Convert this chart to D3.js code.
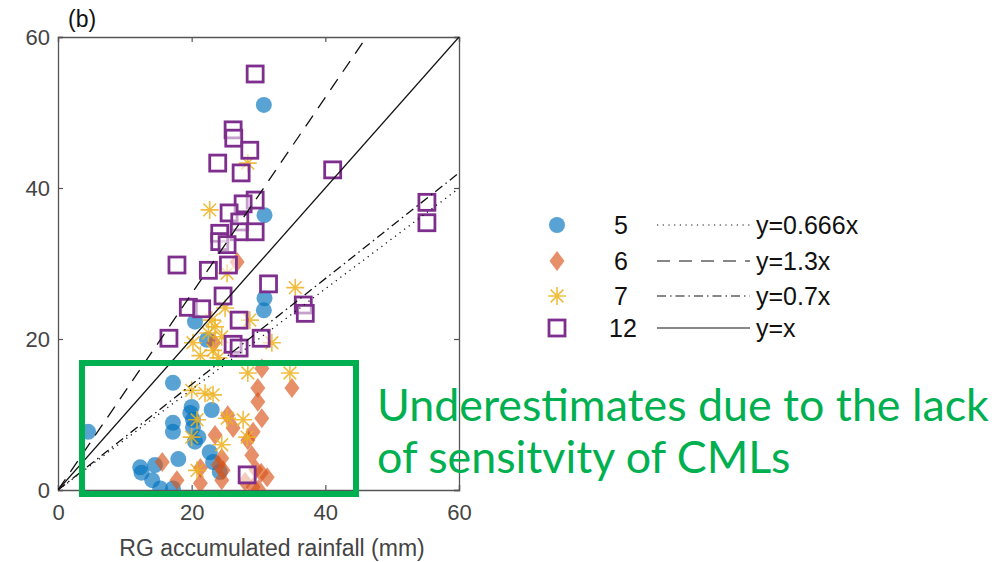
<!DOCTYPE html>
<html lang="en">
<head>
<meta charset="UTF-8">
<title>RG vs CML accumulated rainfall</title>
<script src="https://d3js.org/d3.v7.min.js"></script>
<style>
  body { margin: 0; background: #fff; font-family: "Liberation Sans", Arial, sans-serif; }
  svg { display: block; }
</style>
</head>
<body>
<div id="chart"></div>
<script>
// points: [RG rainfall, CML rainfall] in mm
const series5 = [[30.8,51.0],[30.9,36.4],[30.9,25.4],[30.8,23.8],[20.5,22.3],[22.3,19.9],[17.2,14.2],[4.5,7.7],
  [19.8,10.2],[20.0,11.0],[23.0,10.6],[17.2,8.9],[17.2,7.7],[20.2,8.3],[21.0,7.0],[20.5,6.4],[22.7,5.0],[23.2,3.7],
  [24.2,2.4],[12.3,3.0],[12.5,2.3],[14.5,3.3],[18.0,4.1],[14.1,1.3],[15.3,0.2],[17.2,0.2],[20.2,9.3]];
const series6 = [[26.8,30.2],[30.5,16.1],[35.0,13.5],[29.9,13.5],[29.9,11.7],[30.5,9.5],[25.4,9.9],[26.2,8.2],
  [29.2,7.7],[28.4,6.6],[23.5,7.3],[29.0,4.6],[24.5,4.2],[24.0,3.3],[24.7,2.6],[24.5,1.3],[21.3,2.9],[21.3,0.9],
  [17.8,1.3],[15.6,3.7],[31.3,1.7],[29.2,0.4],[28.0,1.1],[30.0,0.1],[23.3,19.5],[29.6,2.7],[30.4,2.3]];
const series7 = [[28.4,43.3],[22.7,37.1],[25.3,28.7],[35.5,26.8],[25.0,24.1],[28.7,22.5],[23.5,21.6],[20.2,19.5],
  [32.0,19.5],[22.5,20.8],[23.2,18.5],[24.5,20.3],[34.7,15.5],[20.0,13.2],[22.0,12.8],[23.2,12.6],[20.8,9.3],
  [25.3,9.5],[27.7,9.3],[20.0,7.0],[28.3,7.0],[24.5,6.0],[20.8,2.6],[28.4,15.5],[21.3,17.8],[24.0,17.5],[23.0,22.5]];
const series12 = [[29.5,55.1],[26.2,47.7],[26.3,46.6],[28.7,45.0],[23.9,43.3],[27.4,42.0],[41.1,42.4],[55.2,38.1],
  [55.2,35.4],[29.5,38.4],[27.7,37.9],[25.6,36.7],[27.2,35.5],[29.5,34.2],[27.1,34.2],[24.2,34.0],[24.2,32.9],
  [25.3,32.5],[17.8,29.8],[22.5,29.1],[25.5,29.8],[31.5,27.3],[24.7,25.7],[19.5,24.2],[21.5,24.0],[27.1,22.5],
  [16.6,20.1],[26.2,19.3],[27.1,18.8],[30.4,20.1],[36.7,24.5],[37.0,23.4],[28.3,2.0]];

const seriesNames = ["5", "6", "7", "12"];
const slopes = [0.666, 1.3, 0.7, 1];
const slopeLabels = ["y=0.666x", "y=1.3x", "y=0.7x", "y=x"];
const ticks = [0, 20, 40, 60];

const width = 1007, height = 562;
const x0 = 58, x1 = 459, yTop = 37, yBot = 490;

const svg = d3.select("#chart").append("svg")
    .attr("width", width).attr("height", height);
svg.append("rect").attr("width", width).attr("height", height).attr("fill", "#fff");

const x = d3.scaleLinear().domain([0, 60]).range([x0, x1]);
const y = d3.scaleLinear().domain([0, 60]).range([yBot, yTop]);

svg.append("defs").append("clipPath").attr("id", "plotclip")
  .append("rect").attr("x", x0).attr("y", yTop).attr("width", x1 - x0).attr("height", yBot - yTop);

// axes
const axisColor = "#555";
const gx = svg.append("g").attr("transform", `translate(0,${yBot})`)
    .call(d3.axisBottom(x).tickValues(ticks).tickSize(-5).tickPadding(14));
const gy = svg.append("g").attr("transform", `translate(${x0},0)`)
    .call(d3.axisLeft(y).tickValues(ticks).tickSize(-5).tickPadding(8));
const gxt = svg.append("g").attr("transform", `translate(0,${yTop})`)
    .call(d3.axisTop(x).tickValues(ticks).tickSize(-5).tickFormat(""));
const gyr = svg.append("g").attr("transform", `translate(${x1},0)`)
    .call(d3.axisRight(y).tickValues(ticks).tickSize(-5).tickFormat(""));
[gx, gy, gxt, gyr].forEach(g => {
  g.attr("font-size", 22).attr("font-family", "Liberation Sans, Arial, sans-serif");
  g.select(".domain").attr("stroke", axisColor).attr("stroke-width", 1.3);
  g.selectAll(".tick line").attr("stroke", axisColor).attr("stroke-width", 1.2);
  g.selectAll("text").attr("fill", "#444");
});
gy.selectAll("text").attr("dy", "0.36em");

svg.append("text").attr("x", 272).attr("y", 556).attr("text-anchor", "middle")
  .attr("fill", "#444").style("font-size", "23px").text("RG accumulated rainfall (mm)");
svg.append("text").attr("x", 68).attr("y", 27).attr("fill", "#111")
  .style("font-size", "23px").text("(b)");

// markers
const plot = svg.append("g").attr("clip-path", "url(#plotclip)");
const blue = "#0072BD", orange = "#D95319", yellow = "#EDB120", purple = "#7E2F8E";

function starPath(s) {
  const d = s * 0.707;
  return `M${-s},0L${s},0M0,${-s}L0,${s}M${-d},${-d}L${d},${d}M${-d},${d}L${d},${-d}`;
}
function drawCircle(g, cx, cy) {
  g.append("circle").attr("cx", cx).attr("cy", cy).attr("r", 8)
    .attr("fill", blue).attr("fill-opacity", 0.65);
}
function drawDiamond(g, cx, cy) {
  g.append("path").attr("transform", `translate(${cx},${cy})`)
    .attr("d", "M0,-10L7.5,0L0,10L-7.5,0Z").attr("fill", orange).attr("fill-opacity", 0.65);
}
function drawStar(g, cx, cy) {
  g.append("path").attr("transform", `translate(${cx},${cy})`)
    .attr("d", starPath(9)).attr("stroke", yellow).attr("stroke-width", 1.6)
    .attr("stroke-opacity", 0.85).attr("fill", "none");
}
function drawSquare(g, cx, cy) {
  g.append("rect").attr("x", cx - 8).attr("y", cy - 8).attr("width", 16).attr("height", 16)
    .attr("fill", "#fff").attr("fill-opacity", 0.55)
    .attr("stroke", purple).attr("stroke-width", 2.8);
}
const drawers = [drawCircle, drawDiamond, drawStar, drawSquare];
[series5, series6, series7, series12].forEach((s, i) => {
  s.forEach(d => drawers[i](plot, x(d[0]), y(d[1])));
});

// reference lines
const dashes = ["1.2,4.5", "13,9", "9,4,1.5,4", null];
slopes.forEach((k, i) => {
  const xe = Math.min(60, 60 / k);
  plot.append("line")
    .attr("x1", x(0)).attr("y1", y(0)).attr("x2", x(xe)).attr("y2", y(k * xe))
    .attr("stroke", "#111").attr("stroke-width", 1.3)
    .attr("stroke-dasharray", dashes[i]);
});

// legend
const legRows = [225, 261, 296, 328];
const leg = svg.append("g").style("font-size", "25px");
legRows.forEach((ry, i) => {
  drawers[i](leg, 557, ry);
  leg.append("text").attr("x", seriesNames[i].length > 1 ? 609 : 614).attr("y", ry).attr("dy", "0.36em")
    .attr("fill", "#111").text(seriesNames[i]);
  leg.append("line").attr("x1", 657).attr("x2", 750).attr("y1", ry).attr("y2", ry)
    .attr("stroke", "#111").attr("stroke-width", 1.2).attr("stroke-dasharray", dashes[i]);
  leg.append("text").attr("x", 756).attr("y", ry).attr("dy", "0.36em")
    .attr("fill", "#111").text(slopeLabels[i]);
});

// annotation
const green = "#00B050";
svg.append("rect").attr("x", 82).attr("y", 363).attr("width", 274).attr("height", 131)
  .attr("fill", "none").attr("stroke", green).attr("stroke-width", 6);
const noteLines = ["Underestimates due to the lack", "of sensitvity of CMLs"];
const notes = noteLines.map((t, i) => svg.append("text").attr("x", 377).attr("y", 421 + i * 52)
    .attr("fill", green).style("font-family", "Lato, 'Open Sans', sans-serif")
    .style("font-size", "38px").text(t));
// fit the first line to its width in the picture
const fs = 38 * 612 / notes[0].node().getComputedTextLength();
notes.forEach(n => n.style("font-size", fs + "px"));
</script>
</body>
</html>
